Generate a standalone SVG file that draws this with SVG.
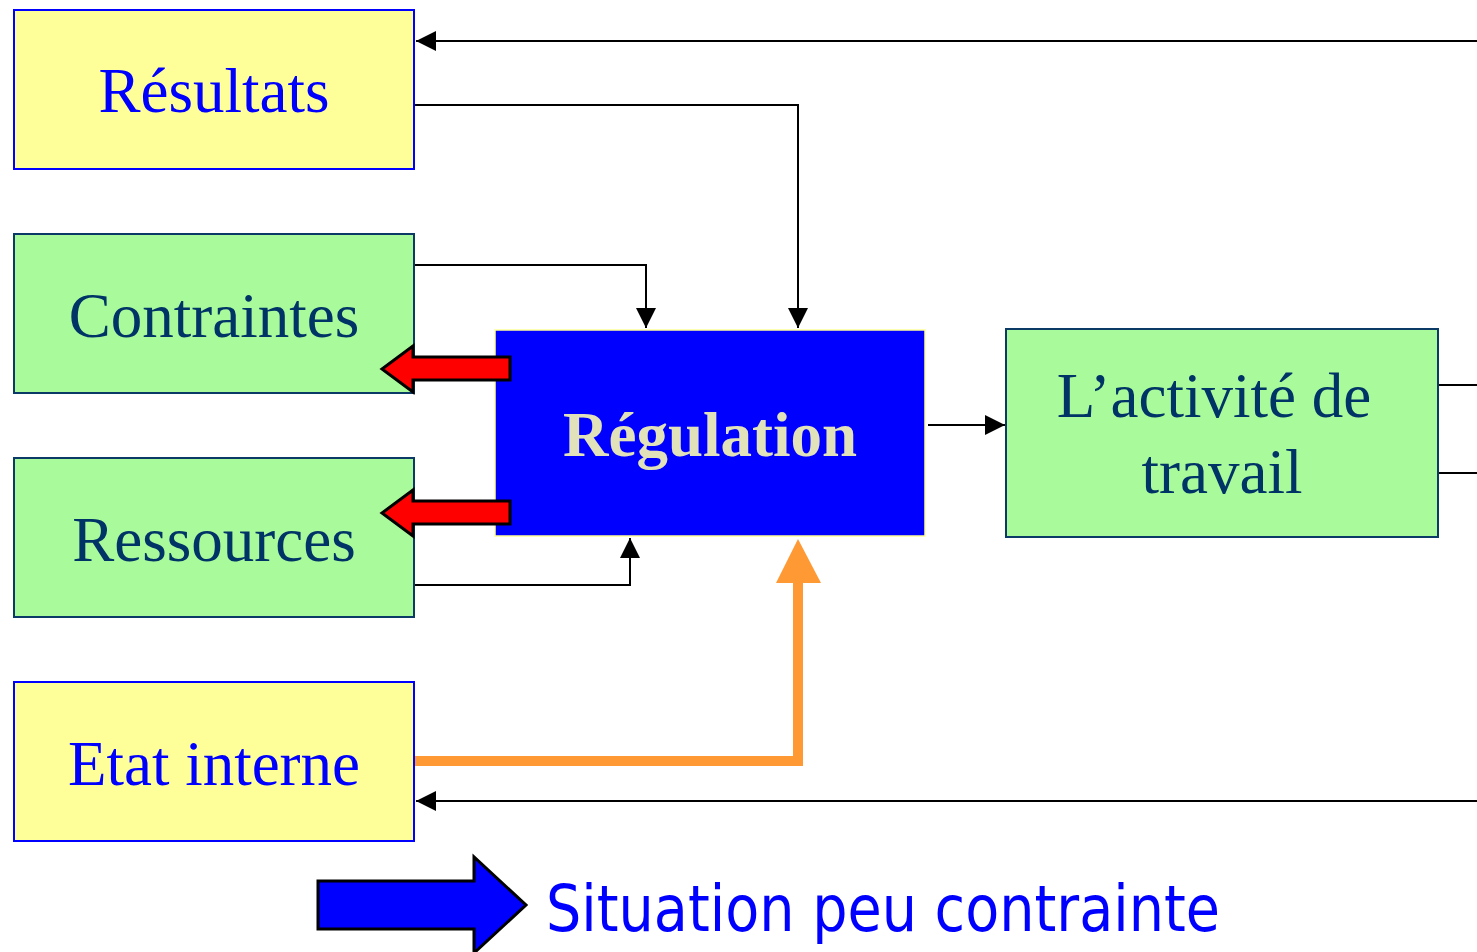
<svg xmlns="http://www.w3.org/2000/svg" width="1477" height="952" viewBox="0 0 1477 952">
<style>
.yel{fill:#FFFF99;stroke:#0000FF;stroke-width:2}
.grn{fill:#A9FA9B;stroke:#0B3A66;stroke-width:2}
.t{font-family:"Liberation Serif","Times New Roman",serif;font-size:63px;text-anchor:middle}
.tb{fill:#0000FF}
.tg{fill:#003366}
.ln{fill:none;stroke:#000;stroke-width:2}
.fat{fill:#FF0000;stroke:#000;stroke-width:3;stroke-linejoin:miter}
</style>
<defs>
<marker id="ah" viewBox="0 0 20 20" refX="20" refY="10" markerWidth="20" markerHeight="20" markerUnits="userSpaceOnUse" orient="auto">
<path d="M0,0 L20,10 L0,20 Z" fill="#000"/>
</marker>
</defs>
<rect width="1477" height="952" fill="#fff"/>
<g id="connectors">
<path class="ln" d="M1477,41 H416" marker-end="url(#ah)"/>
<path class="ln" d="M414,105 H798 V328" marker-end="url(#ah)"/>
<path class="ln" d="M414,265 H646 V328" marker-end="url(#ah)"/>
<path class="ln" d="M414,585 H630 V538" marker-end="url(#ah)"/>
<path class="ln" d="M928,425 H1005" marker-end="url(#ah)"/>
<path class="ln" d="M1438,385 H1477"/>
<path class="ln" d="M1438,473 H1477"/>
<path class="ln" d="M1477,801 H416" marker-end="url(#ah)"/>
<path d="M414,761 H798 V580" fill="none" stroke="#FF9933" stroke-width="10"/>
<path d="M776,583 L798,539 L821,583 Z" fill="#FF9933"/>
</g>
<g id="resultats">
<rect class="yel" x="14" y="10" width="400" height="159"/>
<text class="t tb" x="214" y="112">Résultats</text>
</g>
<g id="contraintes">
<rect class="grn" x="14" y="234" width="400" height="159"/>
<text class="t tg" x="214" y="337">Contraintes</text>
</g>
<g id="ressources">
<rect class="grn" x="14" y="458" width="400" height="159"/>
<text class="t tg" x="214" y="561">Ressources</text>
</g>
<g id="etat">
<rect class="yel" x="14" y="682" width="400" height="159"/>
<text class="t tb" x="214" y="785">Etat interne</text>
</g>
<g id="regulation">
<rect x="495" y="330" width="430" height="206" fill="#0000FF" stroke="#FFFF99" stroke-width="1.5"/>
<text class="t" x="710" y="456" font-weight="bold" fill="#E2E2BA">Régulation</text>
</g>
<g id="activite">
<rect class="grn" x="1006" y="329" width="432" height="208"/>
<text class="t tg" x="1214" y="417">L’activité de</text>
<text class="t tg" x="1222" y="493">travail</text>
</g>
<g id="fleches-rouges">
<path class="fat" d="M510,357 H413 V346 L382,369 L413,392 V380 H510 Z"/>
<path class="fat" d="M510,501 H413 V490 L382,513 L413,536 V524 H510 Z"/>
</g>
<g id="legende">
<path d="M318,881 H474 V857 L526,905 L474,953 V929 H318 Z" fill="#0000FF" stroke="#000" stroke-width="3"/>
<text x="546" y="931" font-family="'DejaVu Sans','Verdana',sans-serif" font-size="64" fill="#0000FF" textLength="674" lengthAdjust="spacingAndGlyphs">Situation peu contrainte</text>
</g>
</svg>
